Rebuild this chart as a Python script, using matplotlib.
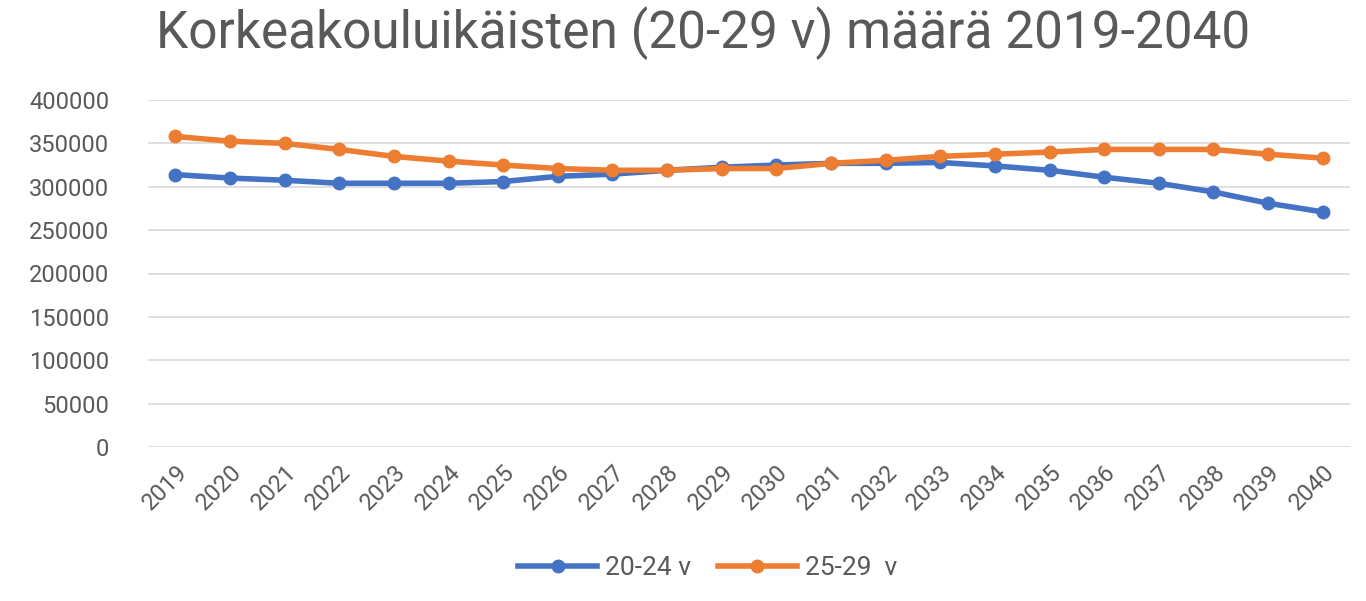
import matplotlib
matplotlib.use("Agg")
import matplotlib.pyplot as plt
from matplotlib import font_manager

years = [str(y) for y in range(2019, 2041)]
s_20_24 = [314000, 310000, 307500, 304000, 304000, 304000, 306000, 312000, 314500, 319000,
           322500, 325000, 327000, 327000, 328000, 324000, 319000, 311000, 304000, 294000,
           281000, 271000]
s_25_29 = [358000, 352500, 350000, 343000, 335000, 329500, 325000, 321000, 319000, 319000,
           321000, 321000, 327000, 330500, 335000, 337500, 340000, 343000, 343000, 343000,
           337500, 333000]
yticks = [0, 50000, 100000, 150000, 200000, 250000, 300000, 350000, 400000]

names = {f.name for f in font_manager.fontManager.ttflist}
fam = "Liberation Sans Narrow" if "Liberation Sans Narrow" in names else "Roboto"
plt.rcParams['font.family'] = [fam, 'DejaVu Sans']

fig = plt.figure(figsize=(13.66, 6.01), dpi=100)
ax = fig.add_axes([148/1366, 1-447/601, (1350-148)/1366, 347/601])

x = list(range(len(years)))
ax.plot(x, s_20_24, color='#4472C4', lw=4, marker='o', ms=9, label='20-24 v', zorder=3)
ax.plot(x, s_25_29, color='#ED7D31', lw=4, marker='o', ms=9, label='25-29  v', zorder=3)

ax.set_xlim(-0.5, len(years) - 0.5)
ax.set_ylim(0, 400000)
ax.set_yticks(yticks)
ax.set_yticklabels([str(v) for v in yticks], fontsize=17, color='#595959')
ax.set_xticks(x)
ax.set_xticklabels(years, rotation=45, ha='right', rotation_mode='anchor', fontsize=17, color='#595959')
ax.tick_params(length=0, pad=10)
ax.tick_params(axis='y', pad=28)
ax.grid(axis='y', color='#D9D9D9', lw=1.2)
ax.set_axisbelow(True)
for sp in ax.spines.values():
    sp.set_visible(False)

fig.suptitle('Korkeakouluikäisten (20-29 v) määrä 2019-2040', x=0.515, y=0.99, fontsize=37, color='#595959')
fig.legend(loc='lower center', bbox_to_anchor=(0.518, -0.005), ncol=2, frameon=False, fontsize=19,
           handlelength=3, columnspacing=1.0, handletextpad=0.3, labelcolor='#595959')

fig.savefig('out.png', dpi=100)
